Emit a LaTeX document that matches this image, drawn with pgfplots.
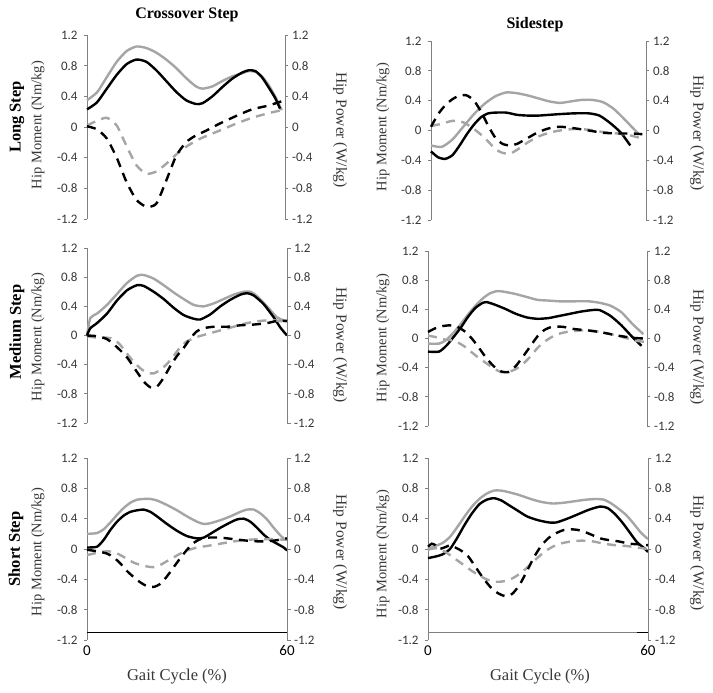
\documentclass[border=0pt]{standalone}
\usepackage{pgfplots}
\pgfplotsset{compat=1.18}
\usepackage{fontspec}
\setmainfont{Liberation Serif}
\newfontfamily\carlito{Carlito}
\definecolor{lgray}{RGB}{165,165,165}
\definecolor{axgray}{RGB}{128,128,128}
\definecolor{txtgray}{RGB}{55,55,55}
\pgfplotsset{
 panelbase/.style={scale only axis, xmin=0, xmax=60, ymin=-1.2, ymax=1.2,
   ytick={-1.2,-0.8,-0.4,0,0.4,0.8,1.2},
   yticklabels={-1.2,-0.8,-0.4,0,0.4,0.8,1.2},
   y axis line style={draw=axgray, line width=0.9pt},
   ytick style={draw=axgray, line width=0.8pt},
   major tick length=3.5pt,
   ytick align=outside,
   clip=false},
 leftax/.style={panelbase, axis y line*=left, axis x line=none,
   yticklabel style={font=\carlito\fontsize{13}{13}\selectfont, text=txtgray, xshift=-2.5pt}},
 leftaxb/.style={panelbase, axis y line*=left, axis x line*=bottom,
   yticklabel style={font=\carlito\fontsize{13}{13}\selectfont, text=txtgray, xshift=-2.5pt},
   x axis line style={draw=none}, xtick={0,60}, xticklabels={0,60},
   xtick style={draw=none}, xticklabel style={font=\carlito\fontsize{15}{15}\selectfont, text=black, yshift=-2pt}},
 rightax/.style={panelbase, axis y line*=right, axis x line=none,
   yticklabel style={font=\carlito\fontsize{13}{13}\selectfont, text=txtgray}},
 sg/.style={draw=lgray, line width=2.4pt, smooth, tension=0.4},
 sb/.style={draw=black, line width=2.4pt, smooth, tension=0.4},
 dg/.style={draw=lgray, line width=2.4pt, smooth, tension=0.4, dash pattern=on 9pt off 6.5pt},
 db/.style={draw=black, line width=2.4pt, smooth, tension=0.4, dash pattern=on 9pt off 6.5pt},
}
\newcommand{\lab}[1]{\fontsize{14.5}{14.5}\selectfont\color{txtgray}#1}
\newcommand{\rlab}[1]{\fontsize{15.5}{15.5}\selectfont\color{txtgray}#1}
\begin{document}
\begin{tikzpicture}
\useasboundingbox (0pt,0pt) rectangle (713pt,-693pt);
% ---------------- Top-left: Crossover, Long
\begin{axis}[leftax, at={(87pt,-35pt)}, anchor=north west, width=198pt, height=184pt]
\addplot[sg] coordinates {(0,0.35)(3,0.45)(6,0.65)(9,0.85)(12,0.99)(15,1.05)(18,1.03)(21,0.97)(24,0.88)(27,0.77)(30,0.64)(33,0.53)(35,0.50)(38,0.53)(41,0.60)(44,0.66)(47,0.70)(49,0.73)(51,0.72)(53,0.66)(55,0.55)(57,0.40)(59,0.22)};
\addplot[sb] coordinates {(0,0.23)(3,0.32)(6,0.50)(9,0.68)(12,0.82)(15,0.88)(18,0.85)(21,0.74)(24,0.60)(27,0.46)(30,0.35)(33,0.30)(35,0.31)(38,0.40)(41,0.52)(44,0.63)(47,0.71)(49,0.74)(51,0.73)(53,0.65)(55,0.52)(57,0.38)(58.5,0.24)};
\end{axis}
\begin{axis}[rightax, at={(87pt,-35pt)}, anchor=north west, width=198pt, height=184pt]
\addplot[dg] coordinates {(0,0.02)(3,0.08)(6,0.12)(9,0.02)(12,-0.25)(15,-0.50)(18,-0.61)(21,-0.58)(24,-0.48)(27,-0.36)(30,-0.26)(33,-0.18)(36,-0.12)(40,-0.05)(45,0.04)(50,0.12)(55,0.18)(59,0.22)};
\addplot[db] coordinates {(0,0.01)(3,-0.03)(6,-0.15)(9,-0.40)(12,-0.72)(15,-0.95)(18,-1.04)(21,-1.00)(24,-0.70)(27,-0.38)(30,-0.20)(33,-0.11)(36,-0.05)(40,0.04)(45,0.14)(50,0.23)(55,0.28)(60,0.35)};
\end{axis}
% ---------------- Top-right: Sidestep, Long
\begin{axis}[leftax, at={(431pt,-41pt)}, anchor=north west, width=215pt, height=179pt]
\addplot[sg] coordinates {(0,-0.20)(3,-0.22)(6,-0.12)(9,0.05)(12,0.22)(15,0.36)(18,0.46)(21,0.51)(24,0.50)(27,0.47)(30,0.43)(33,0.39)(36,0.37)(39,0.39)(42,0.41)(45,0.41)(48,0.38)(51,0.29)(54,0.15)(56,0.05)(58,-0.05)};
\addplot[sb] coordinates {(0,-0.28)(2,-0.36)(4,-0.38)(6,-0.33)(8,-0.20)(10,-0.05)(12,0.08)(14,0.18)(16,0.23)(18,0.24)(21,0.24)(24,0.21)(27,0.20)(30,0.20)(33,0.21)(36,0.22)(40,0.23)(44,0.23)(47,0.20)(50,0.10)(53,-0.03)(55.6,-0.20)};
\end{axis}
\begin{axis}[rightax, at={(431pt,-41pt)}, anchor=north west, width=215pt, height=179pt]
\addplot[dg] coordinates {(0,0.06)(3,0.09)(6,0.13)(9,0.11)(12,0.02)(15,-0.10)(18,-0.25)(20,-0.30)(22,-0.31)(24,-0.26)(27,-0.16)(30,-0.08)(33,-0.03)(36,0.00)(40,0.02)(44,0.01)(48,-0.02)(52,-0.04)(56,-0.07)(59,-0.11)};
\addplot[db] coordinates {(0,0.05)(2,0.22)(4,0.34)(6,0.42)(8,0.47)(10,0.47)(12,0.40)(14,0.25)(16,0.06)(18,-0.10)(20,-0.18)(22,-0.20)(24,-0.18)(27,-0.10)(30,-0.02)(33,0.03)(36,0.05)(40,0.03)(44,0.00)(48,-0.03)(52,-0.04)(56,-0.04)(59,-0.05)};
\end{axis}
% ---------------- Middle-left: Crossover, Medium
\begin{axis}[leftax, at={(87pt,-248pt)}, anchor=north west, width=200pt, height=175pt]
\addplot[sg] coordinates {(0,0.0)(1,0.24)(3,0.30)(6,0.42)(9,0.57)(12,0.72)(15,0.82)(17,0.83)(20,0.78)(23,0.69)(26,0.59)(29,0.50)(32,0.42)(35,0.40)(38,0.44)(41,0.50)(44,0.56)(47,0.60)(49,0.60)(51,0.54)(54,0.40)(57,0.25)(60,0.19)};
\addplot[sb] coordinates {(0,0.0)(1,0.10)(3,0.17)(6,0.30)(9,0.48)(12,0.62)(15,0.69)(17,0.68)(20,0.60)(23,0.50)(26,0.38)(29,0.28)(32,0.23)(34,0.22)(37,0.29)(40,0.40)(43,0.49)(46,0.56)(48,0.58)(50,0.55)(53,0.43)(56,0.25)(58,0.11)(60,0.0)};
\end{axis}
\begin{axis}[rightax, at={(87pt,-248pt)}, anchor=north west, width=200pt, height=175pt]
\addplot[dg] coordinates {(0,-0.01)(3,-0.03)(6,-0.03)(8,-0.05)(10,-0.13)(12,-0.25)(14,-0.36)(16,-0.45)(18,-0.51)(20,-0.52)(22,-0.47)(24,-0.39)(26,-0.28)(28,-0.16)(30,-0.08)(33,-0.02)(36,0.02)(40,0.07)(44,0.12)(48,0.17)(52,0.20)(56,0.21)(60,0.18)};
\addplot[db] coordinates {(0,0.0)(3,-0.01)(6,-0.05)(9,-0.16)(12,-0.30)(15,-0.50)(17,-0.63)(19,-0.71)(21,-0.70)(23,-0.58)(25,-0.42)(27,-0.28)(29,-0.17)(31,-0.04)(33,0.06)(35,0.10)(38,0.12)(42,0.12)(46,0.14)(50,0.15)(54,0.17)(57,0.20)(60,0.20)};
\end{axis}
% ---------------- Middle-right: Sidestep, Medium
\begin{axis}[leftax, at={(428pt,-251pt)}, anchor=north west, width=219pt, height=175pt]
\addplot[sg] coordinates {(0,-0.07)(3,-0.07)(5,-0.02)(7,0.08)(9,0.20)(11,0.33)(13,0.45)(15,0.55)(17,0.62)(19,0.65)(21,0.64)(24,0.61)(27,0.57)(30,0.53)(33,0.52)(36,0.51)(40,0.51)(44,0.51)(47,0.49)(50,0.45)(53,0.36)(56,0.20)(59,0.06)};
\addplot[sb] coordinates {(0,-0.18)(3,-0.18)(5,-0.10)(7,0.02)(9,0.15)(11,0.30)(13,0.42)(15,0.49)(16,0.50)(18,0.47)(21,0.41)(24,0.34)(27,0.29)(30,0.27)(33,0.28)(36,0.31)(39,0.34)(42,0.37)(45,0.39)(47,0.39)(50,0.31)(53,0.18)(56,0.02)(58.5,-0.10)};
\end{axis}
\begin{axis}[rightax, at={(428pt,-251pt)}, anchor=north west, width=219pt, height=175pt]
\addplot[dg] coordinates {(0,0.04)(2,0.02)(4,-0.01)(6,-0.02)(8,-0.05)(10,-0.11)(12,-0.19)(14,-0.27)(16,-0.34)(18,-0.41)(20,-0.46)(22,-0.46)(24,-0.42)(26,-0.35)(28,-0.25)(30,-0.13)(32,-0.04)(35,0.05)(38,0.09)(42,0.11)(46,0.10)(50,0.06)(54,0.01)(57,-0.03)(60,-0.05)};
\addplot[db] coordinates {(0,0.09)(2,0.14)(4,0.17)(6,0.18)(8,0.16)(10,0.10)(12,0.00)(14,-0.13)(16,-0.27)(18,-0.38)(20,-0.45)(22,-0.46)(24,-0.38)(26,-0.25)(28,-0.11)(30,0.03)(32,0.12)(34,0.16)(37,0.16)(40,0.13)(44,0.11)(48,0.08)(52,0.04)(56,0.01)(59,0.0)};
\end{axis}
% ---------------- Bottom-left: Crossover, Short
\begin{axis}[leftaxb, at={(87pt,-458pt)}, anchor=north west, width=200pt, height=182pt]
\draw[black, line width=1.6pt] (axis cs:0,-1.1) -- (axis cs:60,-1.1);
\addplot[sg] coordinates {(0,0.20)(3,0.21)(5,0.26)(7,0.35)(9,0.45)(11,0.54)(13,0.61)(15,0.65)(17,0.66)(19,0.66)(21,0.64)(24,0.58)(27,0.51)(30,0.43)(33,0.36)(35,0.33)(37,0.34)(40,0.38)(43,0.43)(46,0.49)(48,0.52)(50,0.52)(52,0.47)(54,0.39)(56,0.28)(58,0.18)(59.5,0.12)};
\addplot[sb] coordinates {(0,0.02)(3,0.03)(5,0.12)(7,0.25)(9,0.36)(11,0.44)(13,0.49)(15,0.51)(17,0.52)(19,0.49)(21,0.43)(24,0.33)(27,0.24)(30,0.17)(33,0.14)(35,0.15)(37,0.20)(40,0.28)(43,0.35)(45,0.39)(47,0.40)(49,0.36)(51,0.28)(53,0.19)(55,0.12)(57,0.07)(59,0.02)(60,-0.02)};
\end{axis}
\begin{axis}[rightax, at={(87pt,-458pt)}, anchor=north west, width=200pt, height=182pt]
\addplot[dg] coordinates {(0,-0.08)(2,-0.06)(4,-0.04)(6,-0.03)(8,-0.04)(10,-0.08)(12,-0.13)(14,-0.18)(16,-0.21)(18,-0.23)(20,-0.24)(22,-0.21)(24,-0.16)(26,-0.11)(28,-0.06)(30,-0.02)(33,0.02)(36,0.04)(40,0.07)(44,0.10)(48,0.12)(52,0.13)(56,0.13)(60,0.12)};
\addplot[db] coordinates {(0,-0.01)(3,-0.03)(6,-0.06)(8,-0.11)(10,-0.19)(12,-0.29)(14,-0.37)(16,-0.44)(18,-0.49)(20,-0.50)(22,-0.46)(24,-0.36)(26,-0.24)(28,-0.12)(30,-0.01)(32,0.08)(34,0.13)(36,0.15)(40,0.15)(44,0.13)(48,0.11)(52,0.10)(56,0.11)(60,0.14)};
\end{axis}
% ---------------- Bottom-right: Sidestep, Short
\begin{axis}[leftaxb, at={(428pt,-458pt)}, anchor=north west, width=220pt, height=182pt]
\draw[axgray, line width=1pt] (axis cs:0,-1.1) -- (axis cs:60,-1.1);
\draw[black, line width=1.3pt] (axis cs:57,-1.1) -- (axis cs:60,-1.1);
\addplot[sg] coordinates {(0,0.00)(2,0.04)(4,0.08)(6,0.16)(8,0.29)(10,0.43)(12,0.56)(14,0.66)(16,0.73)(18,0.77)(20,0.77)(22,0.75)(25,0.71)(28,0.66)(31,0.62)(34,0.60)(37,0.61)(40,0.63)(43,0.65)(46,0.66)(48,0.65)(50,0.60)(52,0.53)(54,0.45)(56,0.34)(58,0.22)(60,0.13)};
\addplot[sb] coordinates {(0,-0.12)(2,-0.10)(4,-0.07)(6,0.00)(8,0.15)(10,0.32)(12,0.47)(14,0.59)(16,0.65)(18,0.67)(20,0.64)(22,0.58)(24,0.52)(27,0.43)(30,0.38)(33,0.35)(35,0.35)(38,0.40)(41,0.46)(44,0.52)(47,0.56)(49,0.54)(51,0.46)(53,0.35)(55,0.22)(57,0.09)(59,0.01)(60,-0.04)};
\end{axis}
\begin{axis}[rightax, at={(428pt,-458pt)}, anchor=north west, width=220pt, height=182pt]
\addplot[dg] coordinates {(0,-0.01)(2,0.01)(4,-0.02)(6,-0.08)(8,-0.15)(10,-0.22)(12,-0.29)(14,-0.35)(16,-0.40)(18,-0.43)(20,-0.43)(22,-0.41)(24,-0.36)(26,-0.29)(28,-0.20)(30,-0.11)(32,-0.03)(34,0.03)(36,0.07)(39,0.10)(42,0.11)(45,0.10)(48,0.07)(51,0.05)(54,0.04)(57,0.02)(60,0.0)};
\addplot[db] coordinates {(0,0.03)(1,0.07)(2,0.05)(3,0.00)(5,0.03)(6,0.05)(7,0.03)(9,-0.02)(11,-0.10)(13,-0.24)(15,-0.38)(17,-0.50)(19,-0.58)(21,-0.62)(23,-0.59)(25,-0.47)(27,-0.29)(29,-0.10)(31,0.05)(33,0.15)(35,0.21)(37,0.25)(39,0.26)(41,0.25)(43,0.22)(45,0.18)(47,0.14)(49,0.12)(52,0.10)(55,0.07)(58,0.06)(60,0.05)};
\end{axis}
% ---------------- Titles and labels
\node[font=\bfseries\fontsize{16}{16}\selectfont] at (187pt,-15pt) {Crossover Step};
\node[font=\bfseries\fontsize{16}{16}\selectfont] at (535pt,-25pt) {Sidestep};
\node[rotate=90, font=\bfseries\fontsize{16.5}{16.5}\selectfont] at (17pt,-117pt) {Long Step};
\node[rotate=90, font=\bfseries\fontsize{16.5}{16.5}\selectfont] at (17pt,-332pt) {Medium Step};
\node[rotate=90, font=\bfseries\fontsize{16.5}{16.5}\selectfont] at (16pt,-549pt) {Short Step};
\node[rotate=90] at (38pt,-125pt) {\lab{Hip Moment (Nm/kg)}};
\node[rotate=90] at (38pt,-337pt) {\lab{Hip Moment (Nm/kg)}};
\node[rotate=90] at (38pt,-552pt) {\lab{Hip Moment (Nm/kg)}};
\node[rotate=90] at (383pt,-127pt) {\lab{Hip Moment (Nm/kg)}};
\node[rotate=90] at (383pt,-338pt) {\lab{Hip Moment (Nm/kg)}};
\node[rotate=90] at (383pt,-554pt) {\lab{Hip Moment (Nm/kg)}};
\node[rotate=-90] at (340pt,-130pt) {\rlab{Hip Power (W/kg)}};
\node[rotate=-90] at (340pt,-345pt) {\rlab{Hip Power (W/kg)}};
\node[rotate=-90] at (340pt,-552pt) {\rlab{Hip Power (W/kg)}};
\node[rotate=-90] at (697pt,-133pt) {\rlab{Hip Power (W/kg)}};
\node[rotate=-90] at (697pt,-347pt) {\rlab{Hip Power (W/kg)}};
\node[rotate=-90] at (697pt,-553pt) {\rlab{Hip Power (W/kg)}};
\node[font=\fontsize{16.5}{16.5}\selectfont, text=txtgray] at (177pt,-677pt) {Gait Cycle (\%)};
\node[font=\fontsize{16.5}{16.5}\selectfont, text=txtgray] at (540pt,-677pt) {Gait Cycle (\%)};
\end{tikzpicture}
\end{document}
